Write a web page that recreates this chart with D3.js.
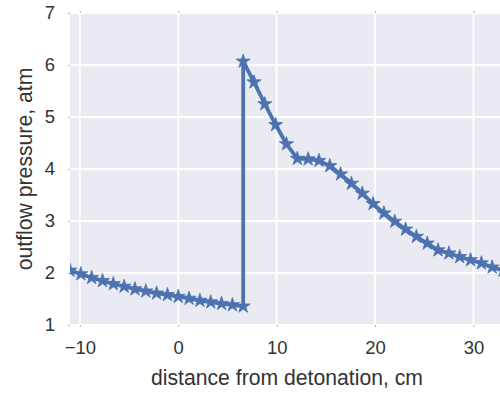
<!DOCTYPE html>
<html>
<head>
<meta charset="utf-8">
<script src="https://cdn.jsdelivr.net/npm/d3@7"></script>
<style>
  html, body { margin: 0; padding: 0; background: #ffffff; }
  svg { display: block; }
  text { font-family: "Liberation Sans", Arial, Helvetica, sans-serif; fill: #333333; }
</style>
</head>
<body>
<svg id="chart" width="500" height="394"></svg>
<script>
// Distance from detonation (cm) and outflow pressure (atm).
// The front at 6.6 cm appears twice: the pressure jumps from the pre-shock to the peak value.
const distance = [
  -11.0, -9.9, -8.8, -7.7, -6.6, -5.5, -4.4, -3.3, -2.2, -1.1, 0.0,
  1.1, 2.2, 3.3, 4.4, 5.5, 6.6,
  6.6, 7.7, 8.8, 9.9, 11.0, 12.1, 13.2, 14.3, 15.4, 16.5, 17.6, 18.7,
  19.8, 20.9, 22.0, 23.1, 24.2, 25.3, 26.4, 27.5, 28.6, 29.7, 30.8, 31.9, 33.0
];
const pressure = [
  2.05, 1.98, 1.91, 1.85, 1.79, 1.74, 1.69, 1.65, 1.61, 1.58, 1.545,
  1.51, 1.47, 1.44, 1.41, 1.385, 1.36,
  6.07, 5.67, 5.25, 4.85, 4.48, 4.20, 4.19, 4.16, 4.06, 3.90, 3.72, 3.53,
  3.33, 3.15, 2.99, 2.84, 2.70, 2.57, 2.44, 2.38, 2.31, 2.25, 2.19, 2.11, 2.05
];
const xTicks = [-10, 0, 10, 20, 30];
const yTicks = [1, 2, 3, 4, 5, 6, 7];
const xDomain = [-11, 33];
const yDomain = [1, 7];

const points = distance.map((d, i) => ({ x: d, y: pressure[i] }));

const svg = d3.select("#chart");
const margin = { left: 70, top: 13, bottom: 69 };
const plotW = 433;
const plotH = 394 - margin.top - margin.bottom;

const x = d3.scaleLinear().domain(xDomain).range([margin.left, margin.left + plotW]);
const y = d3.scaleLinear().domain(yDomain).range([margin.top + plotH, margin.top]);

const bg = "#EAEAF2";
const blue = "#4C72B0";

// plot background
svg.append("rect")
  .attr("x", margin.left).attr("y", margin.top)
  .attr("width", plotW).attr("height", plotH)
  .attr("fill", bg);

// grid
const grid = svg.append("g");
grid.selectAll(".gx").data(xTicks).join("line")
  .attr("x1", d => x(d)).attr("x2", d => x(d))
  .attr("y1", margin.top).attr("y2", margin.top + plotH)
  .attr("stroke", "#ffffff").attr("stroke-width", 1.8);
grid.selectAll(".gy").data(yTicks).join("line")
  .attr("x1", margin.left).attr("x2", margin.left + plotW)
  .attr("y1", d => y(d)).attr("y2", d => y(d))
  .attr("stroke", "#ffffff").attr("stroke-width", 1.8);

// axes: small outward ticks and labels
const fmt = d => d < 0 ? "\u2212" + Math.abs(d) : String(d);
const xAxis = svg.append("g")
  .attr("transform", `translate(0,${margin.top + plotH})`)
  .call(d3.axisBottom(x).tickValues(xTicks).tickFormat(fmt).tickSizeInner(2).tickSizeOuter(0).tickPadding(14));
const xAxisTop = svg.append("g")
  .attr("transform", `translate(0,${margin.top})`)
  .call(d3.axisTop(x).tickValues(xTicks).tickFormat("").tickSizeInner(2).tickSizeOuter(0));
const yAxis = svg.append("g")
  .attr("transform", `translate(${margin.left},0)`)
  .call(d3.axisLeft(y).tickValues(yTicks).tickFormat(fmt).tickSizeInner(2).tickSizeOuter(0).tickPadding(13));

[xAxis, xAxisTop, yAxis].forEach(g => {
  g.select(".domain").remove();
  g.selectAll(".tick line").attr("stroke", "#b0b0b0").attr("stroke-width", 1);
  g.selectAll(".tick text")
    .attr("fill", "#333333")
    .style("font-size", "18.5px")
    .style("font-family", '"Liberation Sans", Arial, sans-serif');
});

// axis titles
svg.append("text")
  .attr("x", margin.left + 217).attr("y", 385)
  .attr("text-anchor", "middle")
  .style("font-size", "21.2px")
  .text("distance from detonation, cm");

svg.append("text")
  .attr("transform", `translate(32,${margin.top + plotH / 2}) rotate(-90)`)
  .attr("text-anchor", "middle")
  .style("font-size", "21.2px")
  .text("outflow pressure, atm");

// data line and star markers, clipped to the plot area
svg.append("clipPath").attr("id", "plotclip")
  .append("rect")
  .attr("x", margin.left).attr("y", margin.top)
  .attr("width", plotW).attr("height", plotH);

const series = svg.append("g").attr("clip-path", "url(#plotclip)");

series.append("path")
  .datum(points)
  .attr("fill", "none")
  .attr("stroke", blue)
  .attr("stroke-width", 3.8)
  .attr("stroke-linejoin", "round")
  .attr("d", d3.line().x(d => x(d.x)).y(d => y(d.y)));

const star = d3.symbol().type(d3.symbolStar).size(62);
series.selectAll(".pt").data(points).join("path")
  .attr("transform", d => `translate(${x(d.x)},${y(d.y)})`)
  .attr("d", star)
  .attr("fill", blue)
  .attr("stroke", blue)
  .attr("stroke-width", 0.8);
</script>
</body>
</html>
